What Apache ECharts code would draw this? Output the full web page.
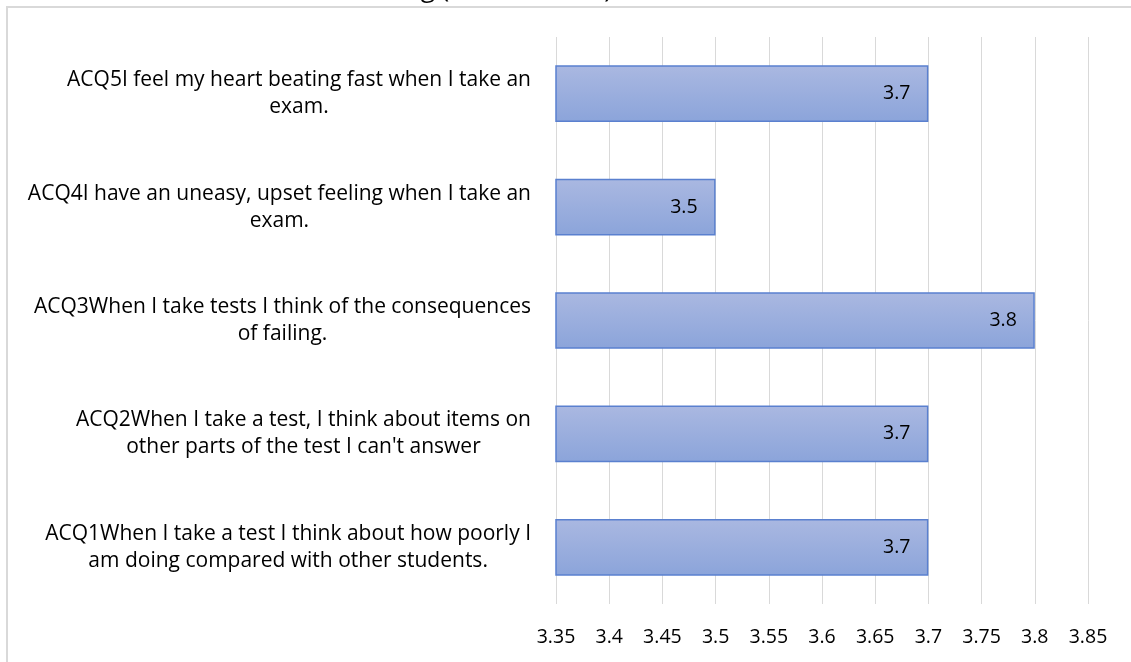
<!DOCTYPE html>
<html>
<head>
<meta charset="utf-8">
<title>Test anxiety items – mean scores</title>
<script src="https://cdn.jsdelivr.net/npm/echarts@6/dist/echarts.min.js"></script>
<style>
  html, body { margin: 0; padding: 0; background: #ffffff; }
  #chart { width: 1131px; height: 662px; }
</style>
</head>
<body>
<div id="chart"></div>
<script>
// Item statements, bottom to top of the chart
const categories = [
  "ACQ1When I take a test I think about how poorly I am doing compared with other students.",
  "ACQ2When I take a test, I think about items on other parts of the test I can't answer",
  "ACQ3When I take tests I think of the consequences of failing.",
  "ACQ4I have an uneasy, upset feeling when I take an exam.",
  "ACQ5I feel my heart beating fast when I take an exam."
];

// Mean score per item
const values = [3.7, 3.7, 3.8, 3.5, 3.7];

// Value axis range and step
const axisMin = 3.35;
const axisMax = 3.85;
const axisStep = 0.05;

const chartTitle = "Stress While Test Taking (Mean Scores)";

const FONT = "'Open Sans', 'Noto Sans', sans-serif";

// Word-wrap a long statement into lines of at most maxChars characters
function wrapWords(text, maxChars) {
  const words = text.split(' ');
  const lines = [];
  let cur = '';
  words.forEach(w => {
    const next = cur ? cur + ' ' + w : w;
    if (next.length > maxChars && cur) {
      lines.push(cur);
      cur = w;
    } else {
      cur = next;
    }
  });
  if (cur) lines.push(cur);
  return lines;
}

const chart = echarts.init(document.getElementById('chart'), null, { renderer: 'canvas' });

chart.setOption({
  animation: false,
  backgroundColor: '#ffffff',
  graphic: [
    {
      type: 'rect',
      z: -10,
      silent: true,
      shape: { x: 7, y: 7, width: 1300, height: 800 },
      style: { fill: 'none', stroke: '#d9d9d9', lineWidth: 2 }
    },
    {
      type: 'text',
      silent: true,
      style: {
        text: chartTitle,
        x: 612,
        y: -10,
        align: 'right',
        verticalAlign: 'middle',
        font: "26px " + FONT,
        fill: '#000000'
      }
    }
  ],
  grid: {
    left: 556,
    right: 43,
    top: 37,
    bottom: 58,
    containLabel: false
  },
  xAxis: {
    type: 'value',
    min: axisMin,
    max: axisMax,
    interval: axisStep,
    axisLine: { show: false },
    axisTick: { show: false },
    splitLine: { show: true, lineStyle: { color: '#d9d9d9', width: 1 } },
    axisLabel: {
      margin: 23,
      color: '#000000',
      fontFamily: FONT,
      fontSize: 19.5,
      showMinLabel: true,
      showMaxLabel: true,
      formatter: v => String(+v.toFixed(2))
    }
  },
  yAxis: {
    type: 'category',
    data: categories,
    axisLine: { show: false },
    axisTick: { show: false },
    splitLine: { show: false },
    axisLabel: {
      margin: 25,
      interval: 0,
      formatter: v => wrapWords(v, 50).map(l => '{c|' + l + '}').join('\n'),
      rich: {
        c: {
          align: 'center',
          color: '#000000',
          fontFamily: FONT,
          fontSize: 21,
          lineHeight: 27
        }
      }
    }
  },
  series: [
    {
      type: 'bar',
      data: values,
      barWidth: '50%',
      itemStyle: {
        color: new echarts.graphic.LinearGradient(0, 0, 0, 1, [
          { offset: 0, color: '#aab8e1' },
          { offset: 1, color: '#8ba4da' }
        ]),
        borderColor: '#5a80cf',
        borderWidth: 1.5
      },
      label: {
        show: true,
        position: 'insideRight',
        distance: 18,
        color: '#000000',
        fontFamily: FONT,
        fontSize: 19.5,
        formatter: p => String(p.value)
      }
    }
  ]
});
</script>
</body>
</html>
